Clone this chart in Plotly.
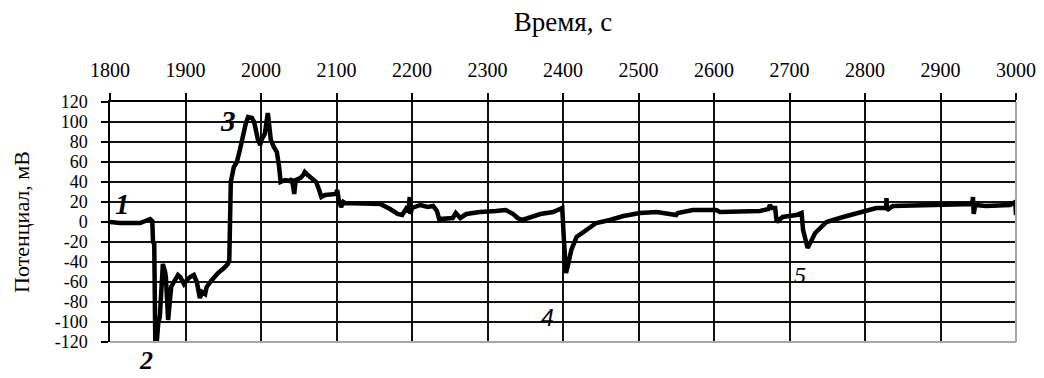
import plotly.graph_objects as go

# Time, s
time_s = [1800, 1813, 1840, 1849, 1853, 1856, 1857, 1858.6, 1860, 1862, 1864, 1866, 1868, 1870,
          1873, 1874, 1877, 1879, 1881, 1886, 1890, 1893, 1898, 1902, 1906, 1911, 1915, 1919,
          1922, 1926, 1928, 1935, 1943, 1951, 1956, 1958, 1959, 1960, 1964, 1968, 1972, 1976,
          1980, 1983, 1988, 1991, 1993, 1996, 1999, 2001, 2005, 2007, 2009, 2011, 2013, 2017,
          2021, 2024, 2026, 2032, 2038, 2041, 2044, 2046, 2052, 2056, 2058, 2062, 2066, 2073,
          2077, 2080, 2085, 2097, 2099, 2101, 2103, 2106, 2109, 2111, 2131, 2158, 2171, 2181,
          2187, 2192, 2195, 2197, 2198, 2200, 2211, 2221, 2228, 2233, 2236, 2244, 2254, 2258,
          2264, 2272, 2290, 2311, 2324, 2334, 2340, 2346, 2356, 2370, 2387, 2399, 2401, 2404,
          2406, 2411, 2418, 2431, 2444, 2462, 2480, 2502, 2524, 2550, 2552, 2572, 2603, 2608,
          2634, 2661, 2672, 2674, 2677, 2681, 2683, 2691, 2709, 2716, 2718, 2724, 2734, 2749,
          2771, 2793, 2815, 2828, 2828.5, 2829, 2837, 2881, 2926, 2942, 2943, 2944, 2946, 2960,
          2992, 2999, 3000]

# Potential, mV
potential_mv = [0, -1, -1, 1, 3, 1, -20, -22, -120, -120, -100, -95, -65, -42,
                -50, -55, -98, -80, -65, -58, -53, -55, -62, -58, -55, -53, -60, -76,
                -70, -72, -65, -58, -51, -46, -42, -38, 5, 40, 55, 60, 72, 87,
                99, 105, 104, 100, 92, 82, 77, 83, 88, 100, 109, 96, 82, 75,
                70, 55, 40, 42, 41, 43, 28, 42, 44, 47, 50, 47, 44, 40,
                32, 25, 27, 27, 28, 32, 22, 15, 20, 19, 19, 18, 13, 8,
                7, 13, 10, 25, 8, 14, 17, 15, 16, 11, 3, 3, 4, 9,
                4, 8, 10, 11, 12, 8, 4, 2, 5, 8, 10, 14, -15, -51,
                -45, -28, -15, -8, -1, 2, 6, 9, 10, 7, 9, 12, 12, 10,
                11, 11, 13, 17, 14, 14, 0, 5, 7, 9, -8, -26, -11, 0,
                5, 10, 14, 14, 24, 12, 16, 17, 18, 18, 25, 8, 17, 16,
                17, 20, 7]

x_ticks = list(range(1800, 3001, 100))
y_ticks = list(range(-120, 121, 20))

# Point labels: text, time, potential
label_text = ["1", "3", "4", "5"]
label_x = [1817, 1956, 2379, 2714]
label_y = [18, 101, -96, -53]
# Label "2" sits below the axis range (under the -120 mV minimum)
label2_text = "2"
label2_x = 1848

SERIF = "Liberation Serif, Times New Roman, serif"

fig = go.Figure()
fig.add_trace(go.Scatter(
    x=time_s, y=potential_mv, mode="lines",
    line=dict(color="black", width=4.5), showlegend=False,
    hoverinfo="skip",
))

label_fonts = [
    dict(family=SERIF, size=29, color="black", weight="bold", style="italic"),
    dict(family=SERIF, size=29, color="black", weight="bold", style="italic"),
    dict(family="Liberation Sans, Arial, sans-serif", size=23, color="black", style="italic"),
    dict(family=SERIF, size=24, color="black", style="italic"),
]
for t, xx, yy, f in zip(label_text, label_x, label_y, label_fonts):
    fig.add_annotation(x=xx, y=yy, xref="x", yref="y", text=t, showarrow=False,
                       font=f, xanchor="center", yanchor="middle")
fig.add_annotation(x=label2_x, y=-0.075, xref="x", yref="paper", text=label2_text,
                   showarrow=False, xanchor="center", yanchor="middle",
                   font=dict(family=SERIF, size=26, color="black", weight="bold", style="italic"))

# The page body has an 8 px default margin, so the figure is sized to fit the window.
fig.update_layout(
    width=1036, height=370,
    margin=dict(l=102, r=28, t=94, b=36, autoexpand=False),
    paper_bgcolor="white", plot_bgcolor="white",
    font=dict(family=SERIF, color="black"),
    title=dict(text="Время, с", font=dict(family=SERIF, size=27, color="black"),
               x=0.5, xref="paper", xanchor="center",
               y=1 - 4 / 370, yref="container", yanchor="top", pad=dict(t=0)),
    shapes=[
        dict(type="line", xref="paper", yref="paper", x0=0, x1=1, y0=0, y1=0,
             line=dict(color="#a6a6a6", width=2)),
        dict(type="line", xref="paper", yref="paper", x0=1, x1=1, y0=0, y1=1,
             line=dict(color="#a6a6a6", width=2)),
    ],
)

fig.update_xaxes(
    side="top", range=[1800, 3000], tickvals=x_ticks, ticktext=[str(v) for v in x_ticks],
    showgrid=True, gridcolor="#111111", gridwidth=1.5,
    showline=True, linecolor="black", linewidth=1.5,
    ticks="outside", ticklen=7, tickcolor="black", tickwidth=1.5,
    ticklabelstandoff=8, automargin=False,
    tickfont=dict(family=SERIF, size=20, color="black"),
    zeroline=False, fixedrange=True,
)
fig.update_yaxes(
    range=[-120, 120], tickvals=y_ticks, ticktext=[str(v) for v in y_ticks],
    showgrid=True, gridcolor="#111111", gridwidth=1.5,
    showline=True, linecolor="black", linewidth=1.5,
    ticks="outside", ticklen=7, tickcolor="black", tickwidth=1.5,
    ticklabelstandoff=10, automargin=False,
    tickfont=dict(family=SERIF, size=18, color="black"),
    title=dict(text="Потенциал, мВ", font=dict(family=SERIF, size=22, color="black"),
               standoff=19),
    zeroline=False, fixedrange=True,
)

fig.write_html("out.html")
